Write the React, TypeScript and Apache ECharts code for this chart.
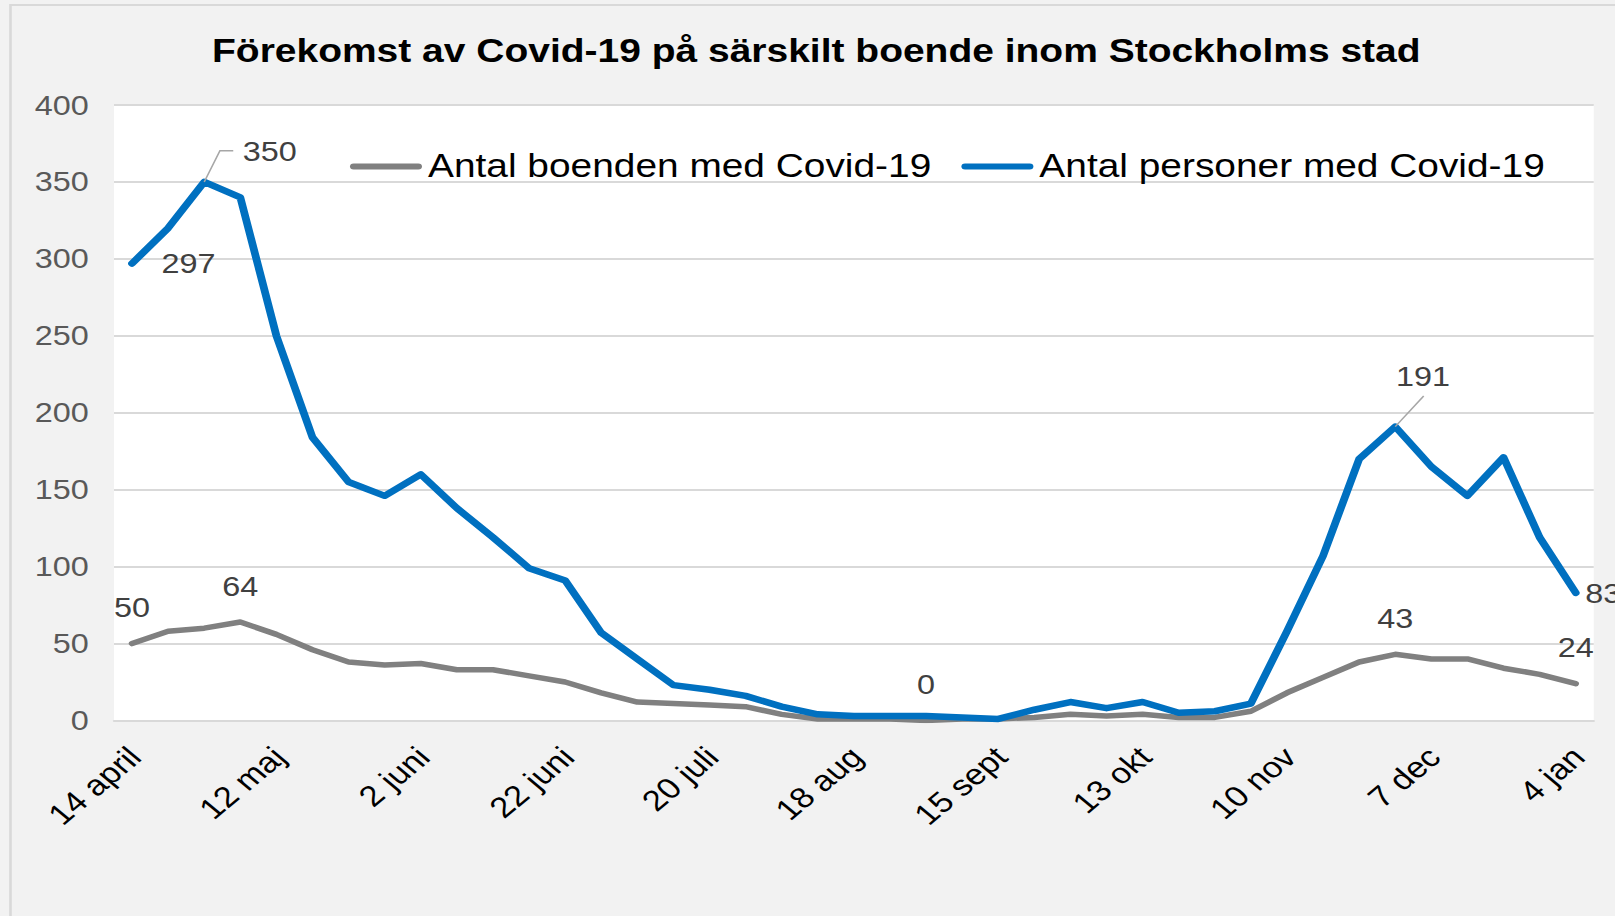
import React, { useEffect, useRef } from "react";
import * as echarts from "echarts";

// ---- data ----
const tickLabels = [
  "14 april", "12 maj", "2 juni", "22 juni", "20 juli", "18 aug",
  "15 sept", "13 okt", "10 nov", "7 dec", "4 jan",
];
const weeksPerTick = 4;
const seriesNames = ["Antal boenden med Covid-19", "Antal personer med Covid-19"];
const boenden = [
  50, 58, 60, 64, 56, 46, 38, 36, 37, 33, 33, 29, 25, 18, 12, 11, 10, 9, 4, 1, 1,
  1, 0, 1, 1, 2, 4, 3, 4, 2, 2, 6, 18, 28, 38, 43, 40, 40, 34, 30, 24,
];
const personer = [
  297, 320, 350, 340, 250, 184, 155, 146, 160, 138, 119, 99, 91, 57, 40, 23, 20, 16, 9, 4, 3,
  3, 3, 2, 1, 7, 12, 8, 12, 5, 6, 11, 58, 107, 170, 191, 165, 146, 171, 119, 83,
];
const yTicks = { min: 0, max: 400, interval: 50 };
const boendenLabelIdx = [0, 3, 22, 35, 40];
const personerLabelIdx = [0, 2, 35, 40];
const leaderIdx = [2, 35];

const categories = personer.map((_, i) =>
  i % weeksPerTick === 0 ? tickLabels[i / weeksPerTick] : ""
);

// ---- layout (chart drawn at CW wide, then stretched horizontally to 1615) ----
const CW = 1346;
const CH = 916;
const FONT = "'Liberation Sans', Arial, Helvetica, sans-serif";
const GRAY = "#808080";
const BLUE = "#0070C0";
const GRID = "#d9d9d9";

const baseLabel = { show: true, fontFamily: FONT, fontSize: 27, color: "#404040" };

const blueLabelCfg: Record<number, any> = {
  0: { position: "inside", offset: [47, 0] },
  2: { position: "inside", offset: [54.7, -30] },
  35: { position: "inside", offset: [23.1, -50.3] },
  40: { position: "right", distance: 7, offset: [0, 1] },
};
// leader line bends, relative to the data point (pixels)
const leaderBends: Record<number, number[][]> = {
  2: [[13.1, -31.2], [24.2, -31.2]],
  35: [[23.7, -30.6]],
};

const grayData = boenden.map((v, i) =>
  boendenLabelIdx.includes(i)
    ? { value: v, label: { ...baseLabel, position: "inside", offset: [0, -36] } }
    : v
);
const blueData = personer.map((v, i) =>
  personerLabelIdx.includes(i) ? { value: v, label: { ...baseLabel, ...blueLabelCfg[i] } } : v
);

const capsule = "path://M3,0 L57,0 A3,3 0 0 1 57,6 L3,6 A3,3 0 0 1 3,0 Z";

const option: any = {
  animation: false,
  backgroundColor: "#f2f2f2",
  title: {
    text: "Förekomst av Covid-19 på särskilt boende inom Stockholms stad",
    left: 176.7,
    top: 35,
    padding: 0,
    textStyle: { fontFamily: FONT, fontWeight: "bold", fontSize: 32.5, color: "#000" },
  },
  legend: {
    data: seriesNames,
    left: 291.7,
    top: 150.5,
    padding: 0,
    icon: capsule,
    itemWidth: 60,
    itemHeight: 6,
    itemGap: 25,
    textStyle: { fontFamily: FONT, fontSize: 32.4, color: "#000" },
  },
  graphic: [
    {
      type: "rect",
      shape: { x: 8.75, y: 5, width: 3000, height: 3000 },
      style: { fill: "none", stroke: GRID, lineWidth: 2.2 },
      silent: true,
      z: -1,
    },
  ],
  grid: {
    left: 95,
    right: 17.7,
    top: 105,
    bottom: 195.5,
    show: true,
    backgroundColor: "#ffffff",
    borderWidth: 0,
  },
  xAxis: {
    type: "category",
    data: categories,
    boundaryGap: true,
    axisTick: { show: false },
    axisLine: { show: true, lineStyle: { color: GRID, width: 2 } },
    axisLabel: {
      interval: weeksPerTick - 1,
      rotate: 45,
      margin: 34,
      padding: [14.6, -3.35, 0, 0],
      fontFamily: FONT,
      fontSize: 29,
      color: "#000",
    },
    splitLine: { show: false },
  },
  yAxis: {
    type: "value",
    min: yTicks.min,
    max: yTicks.max,
    interval: yTicks.interval,
    axisLine: { show: false },
    axisTick: { show: false },
    axisLabel: { margin: 21, fontFamily: FONT, fontSize: 27, color: "#595959" },
    splitLine: { show: true, lineStyle: { color: GRID, width: 2 } },
  },
  series: [
    {
      name: seriesNames[0],
      type: "line",
      data: grayData,
      symbol: "circle",
      symbolSize: 2,
      showSymbol: true,
      showAllSymbol: true,
      itemStyle: { color: GRAY },
      lineStyle: { color: GRAY, width: 5.5, cap: "round", join: "round" },
      silent: true,
      z: 2,
    },
    {
      name: seriesNames[1],
      type: "line",
      data: blueData,
      symbol: "circle",
      symbolSize: 2,
      showSymbol: true,
      showAllSymbol: true,
      itemStyle: { color: BLUE },
      lineStyle: { color: BLUE, width: 6.5, cap: "round", join: "round" },
      silent: true,
      z: 3,
    },
    {
      type: "custom",
      data: leaderIdx.map((i) => [i, personer[i]]),
      silent: true,
      z: 4,
      renderItem: (_params: any, api: any) => {
        const idx = api.value(0);
        const p = api.coord([idx, api.value(1)]);
        const pts = [p, ...(leaderBends[idx] || []).map(([dx, dy]) => [p[0] + dx, p[1] + dy])];
        return {
          type: "polyline",
          shape: { points: pts },
          style: { stroke: "#a6a6a6", lineWidth: 1.3, fill: "none" },
        };
      },
    },
  ],
};

export default function App() {
  const ref = useRef<HTMLDivElement>(null);
  useEffect(() => {
    document.body.style.margin = "0";
    const chart = echarts.init(ref.current as HTMLDivElement, null, {
      renderer: "svg",
      width: CW,
      height: CH,
    });
    chart.setOption(option);
    return () => chart.dispose();
  }, []);
  return (
    <div
      style={{
        position: "fixed",
        left: 0,
        top: 0,
        width: 1615,
        height: 916,
        overflow: "hidden",
        background: "#f2f2f2",
      }}
    >
      <div
        ref={ref}
        style={{
          width: CW,
          height: CH,
          transform: `scaleX(${1615 / CW})`,
          transformOrigin: "0 0",
        }}
      />
    </div>
  );
}
